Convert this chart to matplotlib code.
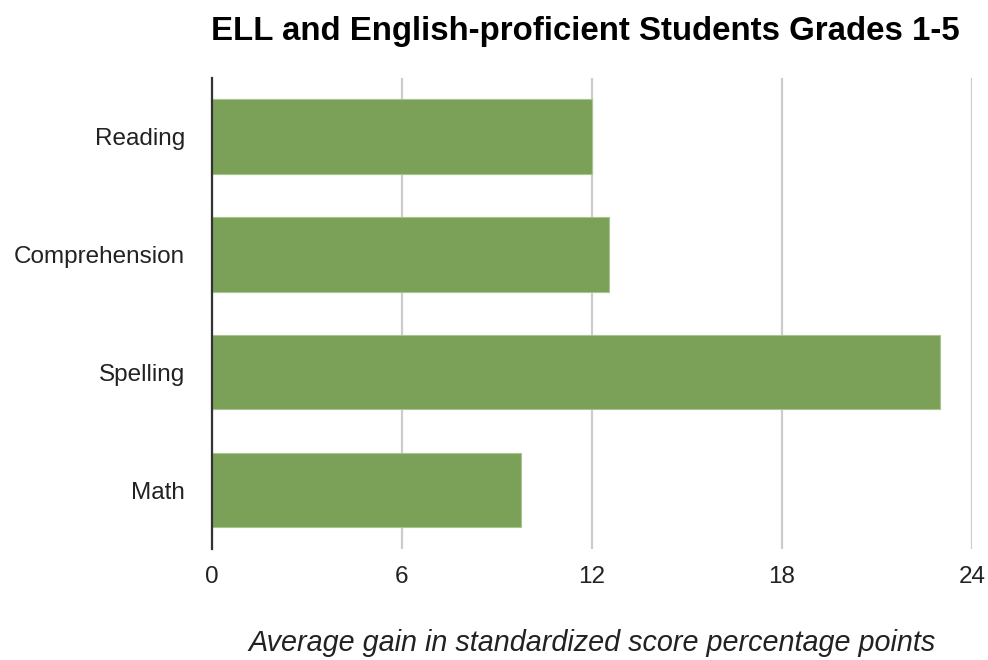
import matplotlib.pyplot as plt

categories = ['Reading', 'Comprehension', 'Spelling', 'Math']
gains = [12.0, 12.55, 23.0, 9.75]
x_ticks = [0, 6, 12, 18, 24]

plt.rcParams['font.family'] = ['Liberation Sans', 'DejaVu Sans']

fig = plt.figure(figsize=(9.88, 6.6), dpi=100)
ax = fig.add_axes([0.2143, 0.1682, 0.7695, 0.7141])

ax.barh(categories, gains, height=0.63, color='#7aa157', edgecolor='#a9c48f',
        linewidth=0.8, zorder=3)
ax.set_ylim(3.5, -0.5)
ax.set_xlim(0, 24)
ax.set_xticks(x_ticks)
ax.xaxis.grid(True, color='#cccccc', linewidth=1.6, zorder=0)
ax.tick_params(axis='both', length=0, labelsize=17.5, colors='#222222')
ax.tick_params(axis='x', pad=12)
ax.tick_params(axis='y', pad=19)

for side in ['top', 'right', 'bottom']:
    ax.spines[side].set_visible(False)
ax.spines['left'].set_color('#333333')
ax.spines['left'].set_linewidth(1.6)
ax.spines['left'].set_zorder(4)

ax.set_title('ELL and English-proficient Students Grades 1-5', fontsize=23.8,
             fontweight='bold', pad=27, x=0.492)
ax.set_xlabel('Average gain in standardized score percentage points',
              fontsize=20.7, style='italic', labelpad=30, color='#222222')

fig.savefig('out.png', dpi=100)
